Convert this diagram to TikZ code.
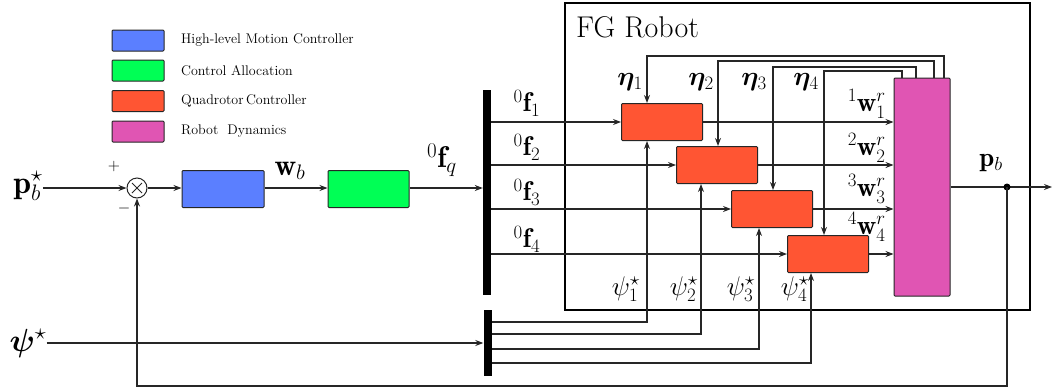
\RequirePackage{fix-cm}
\documentclass[tikz,border=0pt]{standalone}
\usepackage{amsmath,bm}
\usepackage{fontspec}
\usetikzlibrary{arrows.meta,calc}
\definecolor{hlblue}{HTML}{5B7FFF}
\definecolor{cagreen}{HTML}{00FF55}
\definecolor{qcred}{HTML}{FF5533}
\definecolor{rdpink}{HTML}{E055B3}
\newcommand{\lblsize}{\fontsize{27}{32}\selectfont}
\newcommand{\bigsize}{\fontsize{32}{38}\selectfont}
\newcommand{\legsize}{\fontsize{14}{17}\selectfont}
\begin{document}
\begin{tikzpicture}[x=1pt,y=-1pt,
  >={Stealth[length=8pt,width=6pt]},
  wire/.style={line width=1.1pt, draw=black!85},
  blk/.style={draw=black!85, line width=1pt, rounded corners=1pt, inner sep=0pt},
  qc/.style={blk, fill=qcred, minimum width=81pt, minimum height=37pt},
  legbox/.style={blk, minimum width=52pt, minimum height=21pt},
  legtxt/.style={anchor=west, inner sep=0pt, font=\legsize},
  lbl/.style={inner sep=0pt, font=\lblsize},
  bar/.style={fill=black, draw=none, minimum width=8pt, inner sep=0pt}
]
\useasboundingbox (0,0) rectangle (1052,389);

% legend
\node[legbox, fill=hlblue] (lg1) at (138,40.5) {};
\node[legbox, fill=cagreen] (lg2) at (138,70.5) {};
\node[legbox, fill=qcred] (lg3) at (138,101) {};
\node[legbox, fill=rdpink] (lg4) at (138,131.5) {};
\node[legtxt] (lt1) at (181,40.5) {High-level Motion Controller};
\node[legtxt] (lt2) at (181,70.5) {Control Allocation};
\node[legtxt] (lt3) at (181,101) {Quadrotor\,Controller};
\node[legtxt] (lt4) at (181,131.5) {Robot\ \ Dynamics};

% FG robot frame
\node[draw=black, line width=2.4pt, minimum width=465pt, minimum height=307pt, inner sep=0pt] (fg) at (797.5,156.5) {};
\node[anchor=west, inner sep=0pt, font=\fontsize{30}{36}\selectfont] (fgl) at (576,27) {FG Robot};

% main chain
\node[lbl, font=\bigsize] (pin) at (28,186) {$\mathbf{p}_b^{\star}$};
\node[circle, draw=black!85, line width=1pt, minimum size=20pt, inner sep=0pt,
  path picture={\draw[line width=0.8pt]
    ([shift={(-5,-5)}]path picture bounding box.center) -- ([shift={(5,5)}]path picture bounding box.center)
    ([shift={(-5,5)}]path picture bounding box.center) -- ([shift={(5,-5)}]path picture bounding box.center);}] (sum) at (137,188) {};
\node[inner sep=0pt, font=\fontsize{16}{18}\selectfont] (plus) at (114,166) {$+$};
\node[inner sep=0pt, font=\fontsize{16}{18}\selectfont] (minus) at (124,208) {$-$};
\node[blk, fill=hlblue, minimum width=82pt, minimum height=37pt] (hl) at (223,189) {};
\node[blk, fill=cagreen, minimum width=81pt, minimum height=37pt] (ca) at (368.5,189) {};
\node[lbl, font=\fontsize{30}{36}\selectfont] (wb) at (290,171) {$\mathbf{w}_b$};
\node[lbl, font=\fontsize{30}{36}\selectfont] (fq) at (442,160) {${}^0\mathbf{f}_q$};
\node[bar, minimum height=205pt] (bar1) at (487,192.5) {};
\node[bar, minimum height=66pt] (bar2) at (487.5,343) {};

\draw[wire,->] (pin.east |- sum.west) -- (sum.west);
\draw[wire,->] (sum.east) -- (sum.east -| hl.west);
\draw[wire,->] (hl.east |- sum.east) -- (sum.east -| ca.west);
\draw[wire,->] (ca.east |- sum.east) -- (sum.east -| bar1.west);

% quadrotor controllers
\node[qc] (R1) at (662,122) {};
\node[qc] (R2) at (717,165) {};
\node[qc] (R3) at (772,209) {};
\node[qc] (R4) at (828,254) {};
\node[blk, fill=rdpink, minimum width=56pt, minimum height=218pt] (P) at (922,187) {};

% force labels and lines
\node[lbl] (f1) at (527,103) {${}^0\mathbf{f}_1$};
\node[lbl] (f2) at (527,147) {${}^0\mathbf{f}_2$};
\node[lbl] (f3) at (527,192) {${}^0\mathbf{f}_3$};
\node[lbl] (f4) at (527,239) {${}^0\mathbf{f}_4$};
\draw[wire,->] (bar1.east |- R1.west) -- (R1.west);
\draw[wire,->] (bar1.east |- R2.west) -- (R2.west);
\draw[wire,->] (bar1.east |- R3.west) -- (R3.west);
\draw[wire,->] (bar1.east |- R4.west) -- (R4.west);

% wrench outputs
\node[lbl, anchor=east] (w1) at (886,104) {${}^1\mathbf{w}_1^r$};
\node[lbl, anchor=east] (w2) at (886,148) {${}^2\mathbf{w}_2^r$};
\node[lbl, anchor=east] (w3) at (886,189) {${}^3\mathbf{w}_3^r$};
\node[lbl, anchor=east] (w4) at (886,227) {${}^4\mathbf{w}_4^r$};
\draw[wire,->] (R1.east) -- (R1.east -| P.west);
\draw[wire,->] (R2.east) -- (R2.east -| P.west);
\draw[wire,->] (R3.east) -- (R3.east -| P.west);
\draw[wire,->] (R4.east) -- (R4.east -| P.west);

% eta feedback
\coordinate (k1) at (944,56); \coordinate (m1) at (647,56);
\coordinate (k2) at (934,61); \coordinate (m2) at (718,61);
\coordinate (k3) at (916,67); \coordinate (m3) at (773,67);
\coordinate (k4) at (902,71); \coordinate (m4) at (824,71);
\draw[wire,->] (k1 |- P.north) -- (k1) -- (m1) -- (m1 |- R1.north);
\draw[wire,->] (k2 |- P.north) -- (k2) -- (m2) -- (m2 |- R2.north);
\draw[wire,->] (k3 |- P.north) -- (k3) -- (m3) -- (m3 |- R3.north);
\draw[wire,->] (k4 |- P.north) -- (k4) -- (m4) -- (m4 |- R4.north);
\node[lbl] (e1) at (630,82) {$\bm{\eta}_1$};
\node[lbl] (e2) at (701,82) {$\bm{\eta}_2$};
\node[lbl] (e3) at (754,82) {$\bm{\eta}_3$};
\node[lbl] (e4) at (806,82) {$\bm{\eta}_4$};

% psi inputs
\node[lbl, font=\bigsize] (psin) at (28,343) {$\bm{\psi}^{\star}$};
\draw[wire,->] (psin.east |- bar2.west) -- (bar2.west);
\coordinate (s1) at (647,322);
\coordinate (s2) at (701,334);
\coordinate (s3) at (759,349);
\coordinate (s4) at (811,363);
\draw[wire,->] (bar2.east |- s1) -- (s1) -- (s1 |- R1.south);
\draw[wire,->] (bar2.east |- s2) -- (s2) -- (s2 |- R2.south);
\draw[wire,->] (bar2.east |- s3) -- (s3) -- (s3 |- R3.south);
\draw[wire,->] (bar2.east |- s4) -- (s4) -- (s4 |- R4.south);
\node[lbl, anchor=east] (ps1) at (640,289) {$\psi_1^{\star}$};
\node[lbl, anchor=east] (ps2) at (698,289) {$\psi_2^{\star}$};
\node[lbl, anchor=east] (ps3) at (755,289) {$\psi_3^{\star}$};
\node[lbl, anchor=east] (ps4) at (809,289) {$\psi_4^{\star}$};

% output and feedback
\coordinate (dot) at (1007,187);
\coordinate (out) at (1052,187);
\coordinate (fb) at (137,386);
\draw[wire,->] (P.east |- dot) -- (out);
\fill (dot) circle (3.5pt);
\node[lbl] (pb) at (991,163) {$\mathbf{p}_b$};
\draw[wire,->] (dot) |- (fb) -- (sum.south);
\end{tikzpicture}
\end{document}
